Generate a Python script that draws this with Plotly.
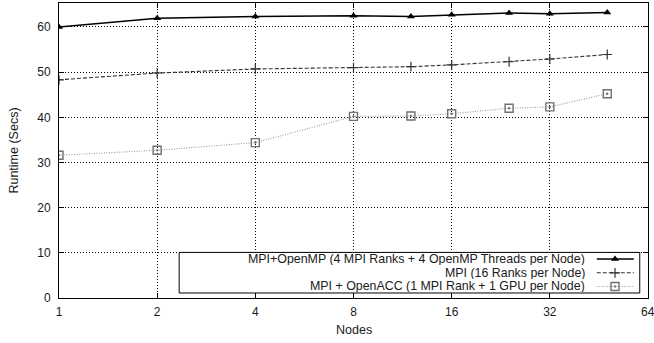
import plotly.graph_objects as go

# Node counts and runtimes (seconds) for each configuration
nodes = [1, 2, 4, 8, 12, 16, 24, 32, 48]
mpi_openmp = [60.0, 61.9, 62.3, 62.5, 62.3, 62.7, 63.1, 62.9, 63.2]
mpi_only = [48.3, 49.8, 50.7, 51.0, 51.2, 51.6, 52.3, 52.9, 53.9]
mpi_openacc = [31.6, 32.7, 34.4, 40.2, 40.3, 40.8, 42.0, 42.3, 45.2]

series_names = [
    "MPI+OpenMP (4 MPI Ranks + 4 OpenMP Threads per Node)",
    "MPI (16 Ranks per Node)",
    "MPI + OpenACC (1 MPI Rank + 1 GPU per Node)",
]

x_ticks = [1, 2, 4, 8, 16, 32, 64]
y_ticks = [0, 10, 20, 30, 40, 50, 60]

FONT = "Liberation Sans, Arial, sans-serif"
TXT = "#1a1a1a"

styles = [
    dict(line=dict(color="black", width=1.5, dash="solid"),
         marker=dict(symbol="triangle-up", size=7, color="black")),
    dict(line=dict(color="#333333", width=1.1, dash="4px,2px"),
         marker=dict(symbol="cross-thin", size=7, color="#333333",
                     line=dict(color="#333333", width=1.2))),
    dict(line=dict(color="#9a9a9a", width=1.1, dash="1px,1.5px"),
         marker=dict(symbol="square-open-dot", size=8, color="#707070",
                     line=dict(color="#707070", width=1.4))),
]

fig = go.Figure()
for name, ys, st in zip(series_names, [mpi_openmp, mpi_only, mpi_openacc], styles):
    fig.add_trace(go.Scatter(x=nodes, y=ys, mode="lines+markers", name=name,
                             line=st["line"], marker=st["marker"], showlegend=False))

# Legend box (gnuplot-style: right-aligned text, sample on the right),
# drawn on an overlay axis spanning [0, 1] so it sits above the grid
box_x0, box_x1, box_y0, box_y1 = 0.204, 0.986, 0.017, 0.1545
fig.add_trace(go.Scatter(x=[box_x0, box_x1, box_x1, box_x0, box_x0],
                         y=[box_y0, box_y0, box_y1, box_y1, box_y0],
                         mode="lines", fill="toself", fillcolor="white",
                         line=dict(color="black", width=1),
                         xaxis="x2", yaxis="y2", showlegend=False, hoverinfo="skip"))

row_y = [0.132, 0.0855, 0.039]
text_right = 0.896
samp_x0, samp_x1, samp_mid = 0.913, 0.976, 0.944
for name, yy, st in zip(series_names, row_y, styles):
    fig.add_annotation(xref="paper", yref="paper", x=text_right, y=yy,
                       text=name, showarrow=False, xanchor="right", yanchor="middle",
                       height=12, valign="middle",
                       font=dict(family=FONT, size=12.4, color=TXT))
    fig.add_trace(go.Scatter(x=[samp_x0, samp_x1], y=[yy, yy], mode="lines",
                             line=st["line"], xaxis="x2", yaxis="y2",
                             showlegend=False, hoverinfo="skip"))
    fig.add_trace(go.Scatter(x=[samp_mid], y=[yy], mode="markers",
                             marker=st["marker"], xaxis="x2", yaxis="y2",
                             showlegend=False, hoverinfo="skip"))

axis_common = dict(
    showline=True, linecolor="black", linewidth=1, mirror="allticks",
    ticks="inside", ticklen=5, tickcolor="black", tickwidth=1,
    showgrid=True, gridcolor="black", gridwidth=1, griddash="1px,2px",
    zeroline=False, tickfont=dict(family=FONT, size=12, color=TXT),
    automargin=False,
)

fig.update_layout(
    width=654, height=343,
    margin=dict(l=59, r=6, t=3, b=45, autoexpand=False),
    paper_bgcolor="white", plot_bgcolor="white",
    showlegend=False,
    xaxis=dict(type="log", range=[0, 1.80618], tickvals=x_ticks,
               ticktext=[str(v) for v in x_ticks], ticklabelstandoff=3, **axis_common),
    yaxis=dict(range=[0, 65.3], tickvals=y_ticks, ticklabelstandoff=5, **axis_common),
    xaxis2=dict(overlaying="x", range=[0, 1], visible=False, fixedrange=True),
    yaxis2=dict(overlaying="y", range=[0, 1], visible=False, fixedrange=True),
)

# The last x tick label sits on the right edge of the page; place it by hand
fig.add_annotation(xref="paper", yref="paper", x=1.0, y=-0.0475, text=str(x_ticks[-1]),
                   showarrow=False, xanchor="center", yanchor="middle",
                   font=dict(family=FONT, size=12, color=TXT))

fig.add_annotation(xref="paper", yref="paper", x=0.5, y=-0.108, text="Nodes",
                   showarrow=False, xanchor="center", yanchor="middle",
                   font=dict(family=FONT, size=12.5, color=TXT))
fig.add_annotation(xref="paper", yref="paper", x=-0.078, y=0.5, text="Runtime (Secs)",
                   textangle=-90, showarrow=False, xanchor="center", yanchor="middle",
                   font=dict(family=FONT, size=12.5, color=TXT))

fig.write_html("out.html")
